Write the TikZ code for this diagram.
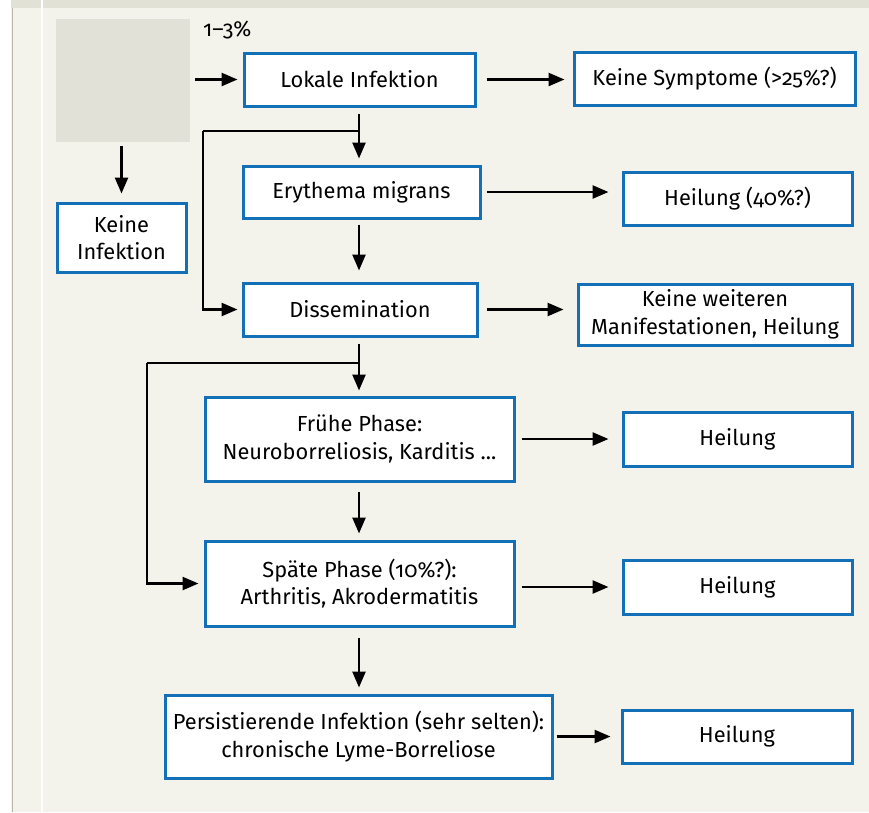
\documentclass[tikz,border=0pt]{standalone}
\usepackage{fontspec}
\setmainfont[Numbers=OldStyle]{Fira Sans}
\usetikzlibrary{arrows.meta}
\definecolor{bgbeige}{HTML}{F3F2EB}
\definecolor{topbeige}{HTML}{E2E1D6}
\definecolor{greybox}{HTML}{E2E1D7}
\definecolor{boxblue}{HTML}{1470B6}
\definecolor{edgegrey}{HTML}{B8B6AC}
\tikzset{
  txt/.style={font=\fontsize{21.8}{27.5}\selectfont},
  box/.style={txt, draw=boxblue, line width=3pt, fill=white, inner sep=0pt, align=center},
  arr/.style={line width=2.5pt, -{Triangle[length=16pt,width=13pt]}},
  ln/.style={line width=2.5pt},
}
\begin{document}
\begin{tikzpicture}[x=1pt,y=-1pt]
\useasboundingbox (0,0) rectangle (869,812);
% background
\fill[white] (0,0) rectangle (869,812);
\fill[bgbeige] (11,0) rectangle (869,812);
\fill[topbeige] (11,0) rectangle (869,8);
\fill[edgegrey] (12,8) rectangle (13.4,812);
\fill[white] (41,0) rectangle (43,812);
% grey source box
\node[fill=greybox, inner sep=0pt, minimum width=134pt, minimum height=123pt] (src) at (123,80.5) {};
\node[txt, anchor=base west, inner sep=0pt] (pct) at (203,36) {1–3\%};
% nodes
\node[box, minimum width=231pt, minimum height=53pt] (lok) at (359.5,79.5) {Lokale Infektion};
\node[box, minimum width=281pt, minimum height=53pt] (ks) at (714.5,78.5) {Keine Symptome (>25\%?)};
\node[box, minimum width=237pt, minimum height=52pt] (ery) at (361.5,192) {Erythema migrans};
\node[box, minimum width=229pt, minimum height=53pt] (h40) at (737.5,198.5) {Heilung (40\%?)};
\node[box, minimum width=129pt, minimum height=69pt] (ki) at (121.5,237.5) {Keine\\Infektion};
\node[box, minimum width=234pt, minimum height=53pt] (dis) at (360,309.5) {Dissemination};
\node[box, minimum width=274pt, minimum height=61pt] (kw) at (715,314.5) {Keine weiteren\\Manifestationen, Heilung};
\node[box, minimum width=309pt, minimum height=84pt] (fru) at (359.5,439) {Frühe Phase:\\Neuroborreliosis, Karditis ...};
\node[box, minimum width=229pt, minimum height=54pt] (h1) at (737.5,439) {Heilung};
\node[box, minimum width=309pt, minimum height=85pt] (spa) at (359.5,583.5) {Späte Phase (10\%?):\\Arthritis, Akrodermatitis};
\node[box, minimum width=229pt, minimum height=54pt] (h2) at (737.5,587) {Heilung};
\node[box, minimum width=387pt, minimum height=83pt] (per) at (358.5,736.5) {Persistierende Infektion (sehr selten):\\chronische Lyme-Borreliose};
\node[box, minimum width=230pt, minimum height=53pt] (h3) at (737,736.5) {Heilung};
% junction coordinates
\coordinate (j1) at (359,131);
\coordinate (c1) at (203,131);
\coordinate (j2) at (359,363);
\coordinate (c2) at (147,363);
% connectors
\draw[arr, shorten <=5pt, shorten >=5pt] (src.east |- lok.west) -- (lok.west);
\draw[arr, shorten <=10pt, shorten >=8pt] (lok.east) -- (ks.west |- lok.east);
\draw[arr, shorten <=4pt, shorten >=8pt] (src.south -| ki.north) -- (ki.north);
\draw[arr, shorten <=6pt, shorten >=6pt] (lok.south -| j1) -- (ery.north -| j1);
\draw[ln] (j1) -- (c1);
\draw[arr, shorten >=4pt] (c1) |- (dis.west);
\draw[arr, shorten <=5pt, shorten >=13pt] (ery.east) -- (ery.east -| h40.west);
\draw[arr, shorten <=5pt, shorten >=11pt] (ery.south -| j1) -- (dis.north -| j1);
\draw[arr, shorten <=8pt, shorten >=13pt] (dis.east) -- (dis.east -| kw.west);
\draw[arr, shorten <=6pt, shorten >=5pt] (dis.south -| j2) -- (fru.north -| j2);
\draw[ln] (j2) -- (c2);
\draw[arr, shorten >=5pt] (c2) |- (spa.west);
\draw[arr, shorten <=6pt, shorten >=13pt] (fru.east) -- (h1.west |- fru.east);
\draw[arr, shorten <=9pt, shorten >=6pt] (fru.south -| j2) -- (spa.north -| j2);
\draw[arr, shorten <=6pt, shorten >=13pt] (spa.east |- h2.west) -- (h2.west);
\draw[arr, shorten <=10pt, shorten >=6pt] (spa.south -| j2) -- (per.north -| j2);
\draw[arr, shorten <=3pt, shorten >=10pt] (per.east |- h3.west) -- (h3.west);
\end{tikzpicture}
\end{document}
